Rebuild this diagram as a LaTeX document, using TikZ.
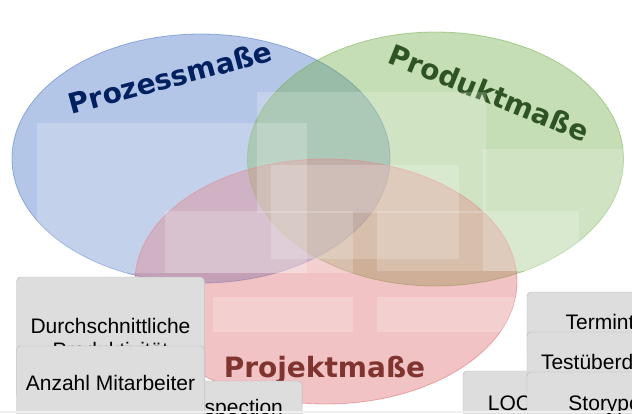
\documentclass[tikz,border=0pt]{standalone}
\usepackage{fontspec}
\setmainfont{Liberation Sans}
\newfontfamily\mengenfont{DejaVu Sans}
\usetikzlibrary{shadows}
\definecolor{prozessblau}{RGB}{68,114,196}
\definecolor{produktgruen}{RGB}{112,173,71}
\definecolor{projektrot}{RGB}{222,105,110}
\definecolor{prozesstext}{RGB}{0,32,96}
\definecolor{produkttext}{RGB}{46,84,36}
\definecolor{projekttext}{RGB}{128,52,48}
\definecolor{kartengrau}{RGB}{221,221,221}
\begin{document}
\begin{tikzpicture}[x=1pt, y=-1pt,
    menge/.style={fill opacity=0.4, draw opacity=0.5, line width=0.8pt},
    titel/.style={font=\mengenfont\bfseries\fontsize{28}{34}\selectfont, anchor=base, inner sep=0pt},
    zone/.style={fill=white, fill opacity=0.2},
    karte/.style={draw=gray!55, fill=kartengrau, rounded corners=4pt, minimum width=188pt,
        font=\fontsize{21}{24}\selectfont, align=center, text height=15pt, text depth=4pt,
        drop shadow={opacity=0.18, shadow xshift=0.6pt, shadow yshift=-0.8pt}}]
    \useasboundingbox (0, 0) rectangle (632, 413);
    \clip (0, 0) rectangle (632, 413);
    \fill[white] (0, 0) rectangle (632, 413);
    % die drei Mengen
    \draw[menge, fill=prozessblau, draw=prozessblau] (201, 158.5) ellipse [x radius=189pt, y radius=124.5pt];
    \draw[menge, fill=produktgruen, draw=produktgruen] (435.5, 159) ellipse [x radius=188pt, y radius=127pt];
    \draw[menge, fill=projektrot, draw=projektrot] (326, 281.5) ellipse [x radius=191pt, y radius=122.5pt];
    \node[titel, text=prozesstext, rotate=15] (prozess) at (173, 87.5) {Prozessmaße};
    \node[titel, text=produkttext, rotate=-22] (produkt) at (485, 102.5) {Produktmaße};
    \node[titel, text=projekttext] (projekt) at (324.5, 377) {Projektmaße};
    % Ablageflaechen
    \fill[zone] (37, 123) rectangle (307, 273);
    \fill[zone] (257, 92) rectangle (486, 213);
    \fill[zone] (271, 165) rectangle (459, 259);
    \fill[zone] (483, 149) rectangle (628, 271);
    \fill[zone] (165, 211) rectangle (353, 273);
    \fill[zone] (377, 211) rectangle (579, 271);
    \fill[zone] (213, 297) rectangle (353, 332);
    \fill[zone] (377, 297) rectangle (579, 332);
    % Karten
    \node[karte, minimum height=121pt, text height=, text depth=] (durchschnitt) at (110.5, 337.5) {Durchschnittliche\\Produktivität};
    \node[karte, minimum width=134pt, minimum height=55pt] (inspektion) at (235, 408.5) {Inspection};
    \node[karte, minimum height=77pt] (mitarbeiter) at (110.5, 384.5) {Anzahl Mitarbeiter};
    \node[karte, minimum width=93pt, minimum height=67pt] (loc) at (509.5, 404.5) {LOC};
    \node[karte, minimum height=63pt] (termin) at (621, 323.5) {Termintreue};
    \node[karte, minimum height=63pt] (test) at (621, 363.5) {Testüberdeckung};
    \node[karte, minimum height=65pt] (story) at (621, 404.5) {Storypoints};
    \fill[gray!12] (0, 411) rectangle (632, 413);
\end{tikzpicture}
\end{document}
